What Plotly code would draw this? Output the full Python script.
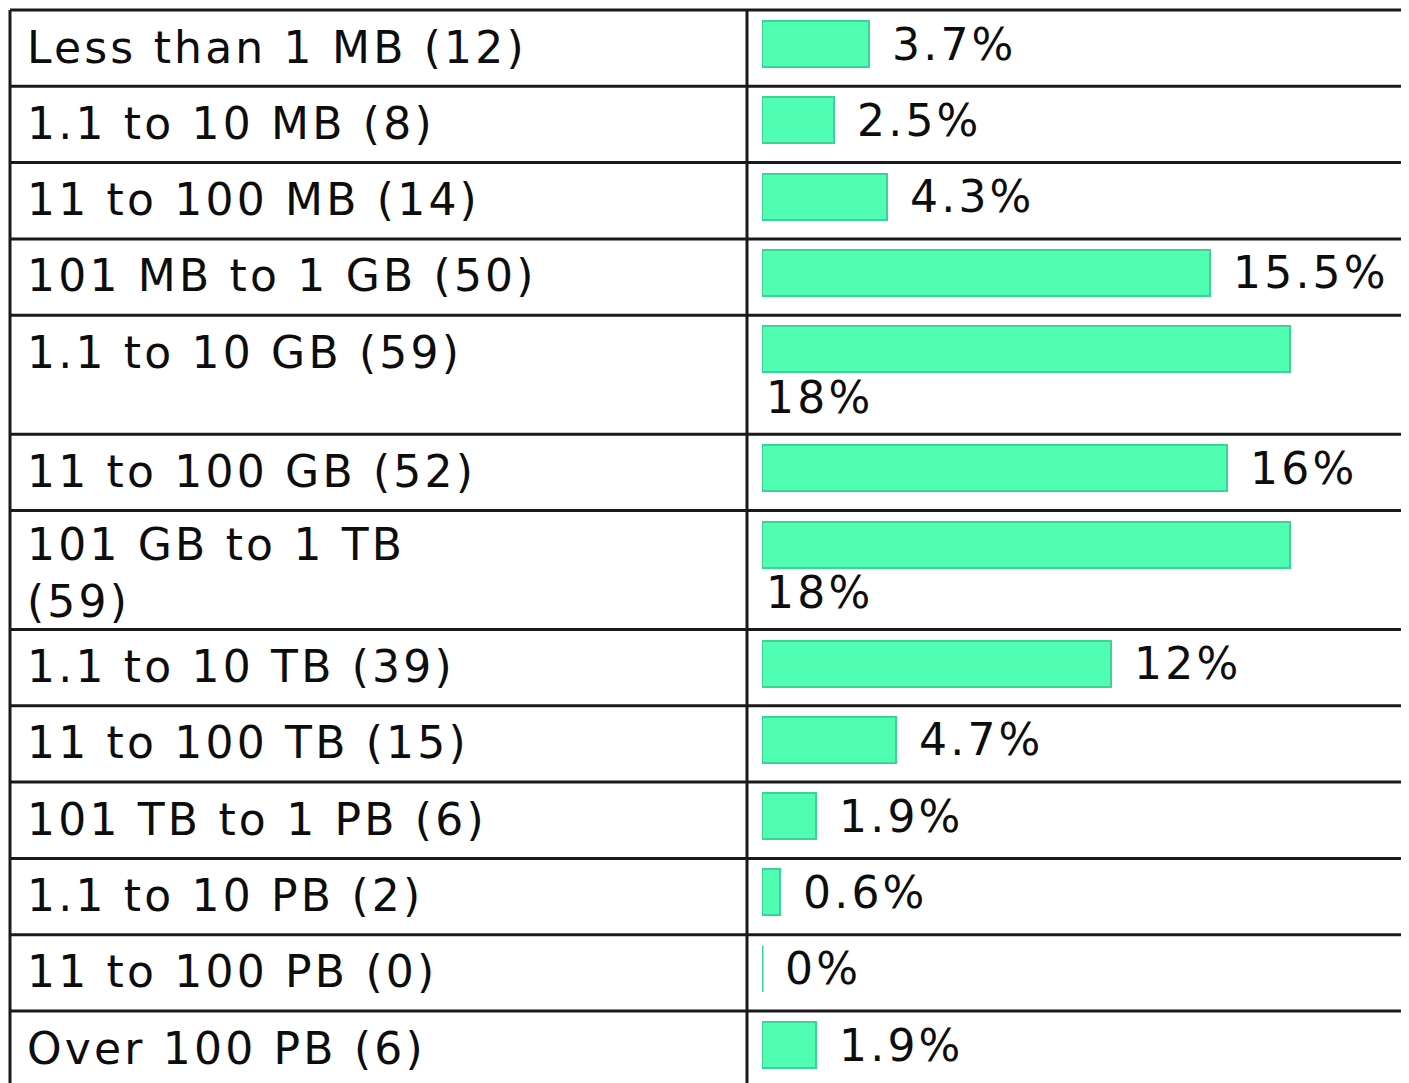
import plotly.graph_objects as go

# ---- data ----
categories = [
    "Less than 1 MB (12)",
    "1.1 to 10 MB (8)",
    "11 to 100 MB (14)",
    "101 MB to 1 GB (50)",
    "1.1 to 10 GB (59)",
    "11 to 100 GB (52)",
    "101 GB to 1 TB<br>(59)",
    "1.1 to 10 TB (39)",
    "11 to 100 TB (15)",
    "101 TB to 1 PB (6)",
    "1.1 to 10 PB (2)",
    "11 to 100 PB (0)",
    "Over 100 PB (6)",
]
counts = [12, 8, 14, 50, 59, 52, 59, 39, 15, 6, 2, 0, 6]
pct_labels = ["3.7%", "2.5%", "4.3%", "15.5%", "18%", "16%", "18%",
              "12%", "4.7%", "1.9%", "0.6%", "0%", "1.9%"]

# ---- layout constants (screen px, corrected for the page's 8px body margin) ----
OFF = 8
W, H = 1409, 1083
TABLE_TOP = 10 - OFF
ROW_H = 76.3
TALL_EXTRA = 42.7
LEFT_X = 10 - OFF
DIV_X = 747 - OFF
BAR_X0 = 762 - OFF
LABEL_X = 25 - OFF
PX_PER_UNIT = 8.95
BAR_H = 46
FONT = "DejaVu Sans"
FS = 44
TXT = "#0d0d0d"
LINE = "#1a1a1a"
BAR_FILL = "#50FDB3"
BAR_EDGE = "#3AD494"
SPACING = "letter-spacing:3.2px"


def styled(s):
    return "<br>".join(f'<span style="{SPACING}">{part}</span>' for part in s.split("<br>"))


max_c = max(counts)
below = [c == max_c for c in counts]

row_tops = []
y = TABLE_TOP
for b in below:
    row_tops.append(y)
    y += ROW_H + (TALL_EXTRA if b else 0)
row_bottom_last = y

bar_centers = [t + 34 for t in row_tops]

fig = go.Figure()

fig.add_trace(go.Bar(
    x=counts, y=bar_centers, orientation="h", width=BAR_H,
    marker=dict(color=BAR_FILL, line=dict(color=BAR_EDGE, width=2)),
    hoverinfo="skip", showlegend=False,
))

# zero-valued bars are drawn as a thin stub
for c, yc in zip(counts, bar_centers):
    if c == 0:
        fig.add_trace(go.Scatter(
            x=[c, c], y=[yc - BAR_H / 2, yc + BAR_H / 2], mode="lines",
            line=dict(color=BAR_EDGE, width=3), hoverinfo="skip", showlegend=False,
        ))

shapes = []
for t in row_tops + [row_bottom_last]:
    shapes.append(dict(type="line", xref="paper", yref="y",
                       x0=LEFT_X / W, x1=1.02, y0=t, y1=t,
                       line=dict(color=LINE, width=3)))
for xv in (LEFT_X, DIV_X):
    shapes.append(dict(type="line", xref="paper", yref="y",
                       x0=xv / W, x1=xv / W, y0=TABLE_TOP, y1=H + 20,
                       line=dict(color=LINE, width=3)))

annotations = []
lh = 1.16 * FS
for cat, t in zip(categories, row_tops):
    n = cat.count("<br>") + 1
    annotations.append(dict(
        text=styled(cat), xref="paper", yref="y", x=LABEL_X / W,
        y=t + 37 + (n - 1) * lh / 2,
        xanchor="left", yanchor="middle", align="left", showarrow=False,
        font=dict(family=FONT, size=FS, color=TXT),
    ))
for c, lab, yc, b in zip(counts, pct_labels, bar_centers, below):
    if b:
        annotations.append(dict(
            text=styled(lab), xref="x", yref="y", x=0, y=yc + 48, xshift=2,
            xanchor="left", yanchor="middle", showarrow=False,
            font=dict(family=FONT, size=FS, color=TXT),
        ))
    else:
        annotations.append(dict(
            text=styled(lab), xref="x", yref="y", x=c, y=yc, xshift=21,
            xanchor="left", yanchor="middle", showarrow=False,
            font=dict(family=FONT, size=FS, color=TXT),
        ))

fig.update_layout(
    width=W, height=H,
    margin=dict(l=0, r=0, t=0, b=0),
    paper_bgcolor="white", plot_bgcolor="white",
    xaxis=dict(domain=[BAR_X0 / W, 1.0], range=[0, (W - BAR_X0) / PX_PER_UNIT],
               visible=False, fixedrange=True),
    yaxis=dict(range=[H, 0], visible=False, fixedrange=True),
    shapes=shapes, annotations=annotations,
    bargap=0, showlegend=False,
)

fig.write_html("out.html")
